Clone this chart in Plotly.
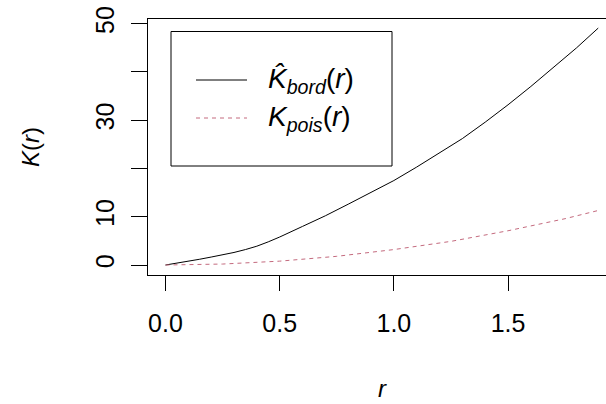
import plotly.graph_objects as go

# Border-corrected K estimate
r_bord = [0, 0.05, 0.1, 0.15, 0.2, 0.25, 0.3, 0.35, 0.4, 0.45, 0.5, 0.6, 0.7, 0.8,
          0.9, 1.0, 1.1, 1.2, 1.3, 1.4, 1.5, 1.6, 1.7, 1.8, 1.895]
k_bord = [0, 0.35, 0.75, 1.2, 1.65, 2.1, 2.6, 3.2, 3.9, 4.8, 5.8, 8.0, 10.2, 12.6,
          15.0, 17.5, 20.3, 23.2, 26.2, 29.6, 33.2, 37.0, 40.9, 45.0, 49.1]

# Theoretical Poisson K
r_pois = [0, 0.25, 0.5, 0.75, 1.0, 1.25, 1.5, 1.75, 1.895]
k_pois = [0, 0.2, 0.8, 1.8, 3.2, 4.9, 7.1, 9.6, 11.3]

x_ticks = [0.0, 0.5, 1.0, 1.5]
x_ticktext = ["0.0", "0.5", "1.0", "1.5"]
y_ticks = [0, 10, 30, 50]
y_ticktext = ["0", "10", "30", "50"]
y_unlabelled_ticks = [20, 40]

W, H = 606, 404
L, T, B, R = 148, 19, 129, 0
FONT = "Liberation Sans, Arial, sans-serif"
POIS_COLOR = "#C46A7E"


def px(x):
    return (x - L) / (W - L - R)


def py(y):
    return (H - B - y) / (H - T - B)


fig = go.Figure()
fig.add_trace(go.Scatter(x=r_bord, y=k_bord, mode="lines",
                         line=dict(color="black", width=1), showlegend=False))
fig.add_trace(go.Scatter(x=r_pois, y=k_pois, mode="lines",
                         line=dict(color=POIS_COLOR, width=1, dash="4px,4px"),
                         showlegend=False))

# Legend box with line samples
shapes = [
    dict(type="rect", xref="paper", yref="paper", x0=px(171), x1=px(392),
         y0=py(166), y1=py(31.5), line=dict(color="black", width=1),
         fillcolor="white", layer="below"),
    dict(type="line", xref="paper", yref="paper", x0=px(196), x1=px(247),
         y0=py(80), y1=py(80), line=dict(color="black", width=1)),
    dict(type="line", xref="paper", yref="paper", x0=px(196), x1=px(247),
         y0=py(118), y1=py(118), line=dict(color=POIS_COLOR, width=1, dash="4px,4px")),
]

annotations = [
    dict(xref="paper", yref="paper", x=px(266), y=py(80), xanchor="left", yanchor="middle",
         text="<i>K̂</i><sub><i>bord</i></sub>(<i>r</i>)", showarrow=False,
         font=dict(family=FONT, size=28, color="black")),
    dict(xref="paper", yref="paper", x=px(266), y=py(118), xanchor="left", yanchor="middle",
         text="<i>K</i><sub><i>pois</i></sub>(<i>r</i>)", showarrow=False,
         font=dict(family=FONT, size=28, color="black")),
    # axis titles
    dict(xref="paper", yref="paper", x=px(382), y=py(388), xanchor="center", yanchor="middle",
         text="<i>r</i>", showarrow=False, font=dict(family=FONT, size=24, color="black")),
    dict(xref="paper", yref="paper", x=px(30), y=py(147), xanchor="center", yanchor="middle",
         text="<i>K</i>(<i>r</i>)", textangle=-90, showarrow=False,
         font=dict(family=FONT, size=24, color="black")),
]

fig.update_layout(
    width=W, height=H,
    margin=dict(l=L, r=R, t=T, b=B),
    paper_bgcolor="white", plot_bgcolor="white",
    shapes=shapes, annotations=annotations,
    xaxis=dict(range=[-0.0766, 1.929], tickvals=x_ticks, ticktext=x_ticktext,
               ticks="outside", ticklen=15, tickcolor="black", tickwidth=1,
               showgrid=False, zeroline=False, showline=True, mirror=True,
               linecolor="black", linewidth=1,
               tickfont=dict(family=FONT, size=25, color="black"),
               ticklabelstandoff=11),
    yaxis=dict(range=[-2.07, 50.98], tickvals=y_ticks, ticktext=y_ticktext,
               ticks="outside", ticklen=16, tickcolor="black", tickwidth=1,
               minor=dict(tickvals=y_unlabelled_ticks, ticks="outside", ticklen=16,
                          tickcolor="black", tickwidth=1, showgrid=False),
               showgrid=False, zeroline=False, showline=True, mirror=False,
               linecolor="black", linewidth=1, tickangle=-90,
               tickfont=dict(family=FONT, size=25, color="black"),
               ticklabelstandoff=7),
    showlegend=False,
)

fig.write_html("out.html")
